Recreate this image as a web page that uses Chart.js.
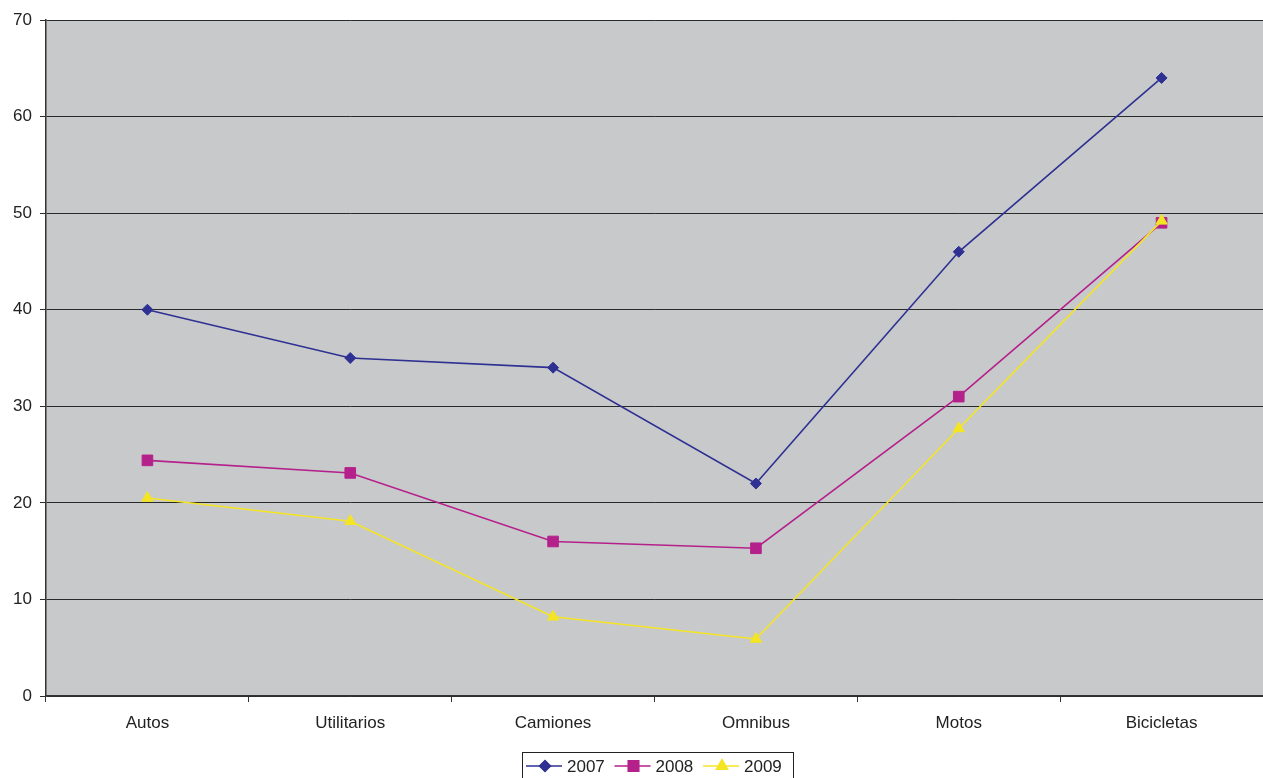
<!DOCTYPE html>
<html>
<head>
<meta charset="utf-8">
<script src="https://cdn.jsdelivr.net/npm/chart.js@4/dist/chart.umd.min.js"></script>
<style>
  html, body { margin: 0; padding: 0; background: #fff; overflow: hidden; }
  #wrap { width: 1263px; height: 778px; position: relative; }
  canvas { display: block; }
</style>
</head>
<body>
<div id="wrap"><canvas id="chart"></canvas></div>
<script>
// --- DATA ---
const categories = ['Autos', 'Utilitarios', 'Camiones', 'Omnibus', 'Motos', 'Bicicletas'];
const years = ['2007', '2008', '2009'];
const values2007 = [40, 35, 34, 22, 46, 64];
const values2008 = [24.4, 23.1, 16, 15.3, 31, 49];
const values2009 = [20.5, 18.1, 8.2, 5.9, 27.7, 49.2];
const yTicks = [0, 10, 20, 30, 40, 50, 60, 70];

// --- STYLE ---
const FONT = { family: 'Arial, "Liberation Sans", sans-serif', size: 17 };
const seriesStyle = [
    { color: '#2e3192', point: 'rectRot', radius: 5.5 },
    { color: '#b5218b', point: 'rect', radius: 7.5 },
    { color: '#f4e524', point: 'triangle', radius: 6.5 }
];

// gray plot background
const plotBackground = {
    id: 'plotBackground',
    beforeDraw(chart) {
        const { ctx, chartArea: a } = chart;
        ctx.save();
        ctx.fillStyle = '#c8c9cb';
        ctx.fillRect(a.left, a.top, a.right - a.left, a.bottom - a.top);
        ctx.restore();
    }
};

// boxed legend with line + marker samples
const boxLegend = {
    id: 'boxLegend',
    afterDraw(chart) {
        const ctx = chart.ctx;
        const boxX = 522, boxY = 752, boxW = 271, boxH = 30;
        ctx.save();
        ctx.strokeStyle = '#222';
        ctx.lineWidth = 1;
        ctx.strokeRect(boxX + 0.5, boxY + 0.5, boxW, boxH);
        ctx.font = `${FONT.size}px ${FONT.family}`;
        ctx.textBaseline = 'middle';
        const cy = 766;
        chart.data.datasets.forEach((ds, i) => {
            const x0 = 526 + i * 88.5;
            ctx.strokeStyle = ds.borderColor;
            ctx.lineWidth = 1.5;
            ctx.beginPath();
            ctx.moveTo(x0, cy);
            ctx.lineTo(x0 + 36, cy);
            ctx.stroke();
            ctx.fillStyle = ds.backgroundColor;
            ctx.strokeStyle = ds.borderColor;
            Chart.helpers.drawPoint(ctx, {
                pointStyle: ds.pointStyle, radius: ds.pointRadius, borderWidth: 1, rotation: 0
            }, x0 + 19, cy);
            ctx.fillStyle = '#222';
            ctx.fillText(ds.label, x0 + 41, cy + 1);
        });
        ctx.restore();
    }
};

const seriesValues = [values2007, values2008, values2009];
const datasets = years.map((year, i) => ({
    label: year,
    data: seriesValues[i],
    borderColor: seriesStyle[i].color,
    backgroundColor: seriesStyle[i].color,
    borderWidth: 1.6,
    pointStyle: seriesStyle[i].point,
    pointRadius: seriesStyle[i].radius,
    pointBorderWidth: 1,
    tension: 0,
    order: years.length - i   // later years painted on top
}));

new Chart(document.getElementById('chart'), {
    type: 'line',
    data: { labels: categories, datasets },
    options: {
        responsive: true,
        maintainAspectRatio: false,
        animation: false,
        layout: { autoPadding: false, padding: { top: 20, right: 0, bottom: 0, left: 0 } },
        plugins: {
            legend: { display: false },
            tooltip: { enabled: false }
        },
        scales: {
            x: {
                offset: true,
                grid: {
                    offset: true,
                    drawOnChartArea: false,
                    drawTicks: true,
                    tickLength: 6,
                    color: '#333'
                },
                border: { color: '#333', width: 1.5 },
                ticks: { color: '#222', font: FONT, padding: 11, maxRotation: 0 },
                afterFit(scale) { scale.height = 82; }
            },
            y: {
                min: 0,
                max: 70,
                afterBuildTicks(scale) { scale.ticks = yTicks.map(v => ({ value: v })); },
                grid: { color: '#2a2a2a', lineWidth: 1, tickLength: 6 },
                border: { color: '#333', width: 1.5 },
                ticks: { color: '#222', font: FONT, padding: 8 },
                afterFit(scale) { scale.width = 46; }
            }
        }
    },
    plugins: [plotBackground, boxLegend]
});
</script>
</body>
</html>
